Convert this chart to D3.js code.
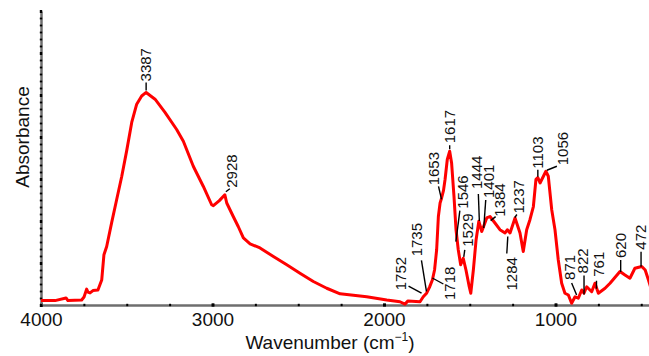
<!DOCTYPE html>
<html>
<head>
<meta charset="utf-8">
<script src="https://cdn.jsdelivr.net/npm/d3@7"></script>
<style>
  body { margin: 0; background: #fff; }
  svg { display: block; font-family: "Liberation Sans", Arial, Helvetica, sans-serif; }
</style>
</head>
<body>
<script>
// FTIR spectrum (cm-1 / absorbance in arbitrary units)
var wavenumber = [4000, 3918, 3854, 3843, 3763, 3749, 3734, 3726, 3714, 3697, 3668, 3646, 3633, 3617, 3588, 3559, 3529, 3500, 3471, 3442, 3413, 3387,
    3335, 3277, 3209, 3170, 3112, 3054, 3005, 2995, 2960, 2928, 2917, 2879, 2850, 2820, 2781, 2723, 2645, 2567, 2490, 2412, 2334, 2256, 2101,
    1984, 1907, 1878, 1860, 1790, 1771, 1752, 1735, 1718, 1705, 1693, 1683, 1673, 1664, 1653, 1644, 1631, 1617, 1606, 1592, 1580, 1567, 1553,
    1538, 1522, 1503, 1494, 1479, 1463, 1447, 1430, 1401, 1382, 1353, 1324, 1294, 1281, 1265, 1236, 1207, 1188, 1168, 1149, 1129, 1114, 1103,
    1090, 1056, 1042, 1022, 1003, 984, 964, 945, 925, 906, 886, 867, 847, 834, 818, 789, 770, 750, 711, 682, 624, 595, 566, 537, 497, 477, 458, 437, 400];
var absorbance = [0.015, 0.015, 0.024, 0.015, 0.017, 0.027, 0.054, 0.044, 0.041, 0.049, 0.051, 0.085, 0.171, 0.199, 0.280, 0.358, 0.438, 0.526, 0.621, 0.683, 0.711, 0.723,
    0.700, 0.655, 0.597, 0.557, 0.472, 0.404, 0.341, 0.338, 0.355, 0.375, 0.347, 0.301, 0.267, 0.228, 0.208, 0.194, 0.165, 0.137, 0.108, 0.080, 0.057, 0.038, 0.028,
    0.017, 0.011, 0.003, 0.014, 0.011, 0.028, 0.040, 0.060, 0.085, 0.120, 0.188, 0.301, 0.347, 0.364, 0.390, 0.427, 0.495, 0.523, 0.484, 0.370, 0.256, 0.188, 0.137,
    0.159, 0.119, 0.062, 0.040, 0.119, 0.222, 0.285, 0.250, 0.296, 0.301, 0.279, 0.256, 0.245, 0.256, 0.245, 0.296, 0.245, 0.182, 0.256, 0.290, 0.335, 0.427, 0.433,
    0.415, 0.455, 0.438, 0.324, 0.256, 0.154, 0.074, 0.040, 0.034, 0.006, 0.028, 0.023, 0.051, 0.040, 0.062, 0.045, 0.074, 0.040, 0.057, 0.074, 0.114, 0.102, 0.091, 0.125, 0.131, 0.119, 0.085, 0.044, 0.020];

var peakLabels = [3387, 2928, 1752, 1735, 1718, 1653, 1617, 1546, 1529, 1444, 1401, 1384, 1284, 1237, 1103, 1056, 871, 822, 761, 620, 472];
var xTickLabels = [4000, 3000, 2000, 1000];

// leader start (sx,sy), leader end (ex,ey), text foot (tx,ty) -- pixel offsets from the curve point
var labelLayout = {
    3387: [0, -2, 0, -10, 0, -11],
    2928: [1, -3, 5, -6, 7, -7],
    1752: [-5, 0, -18, -7, -26, -3],
    1735: [-3, 4, -8, -27, -13, -31],
    1718: [0, -2, 11, 4, 17, 20],
    1653: [-2, 9, -5, -4, -10, -5],
    1617: [0, -2, 0, -6, 0, -8],
    1546: [-6, -20, -2, -51, 1, -53],
    1529: [-1, -8, 0, -15, 3, -18],
    1444: [0, -2, -1, -29, -3, -34],
    1401: [-3, 10, -1, -18, 2, -20],
    1384: [1, 4, 6, 0, 10, 0],
    1284: [1, 6, 0, 23, 5, 60],
    1237: [0, -1, 2, -4, 4, -5],
    1103: [0, -1, 0, -8, 0, -9],
    1056: [1, -1, 11, -5, 17, -6],
    871: [-1, -3, -6, -15, -8, -18],
    822: [-2, 6, -2, -13, -3, -15],
    761: [0, 1, 0, -7, 2, -11],
    620: [0, 0, 0, -12, 0, -14],
    472: [-5, -6, -5, -21, -5, -23]
};

var width = 649, height = 356;
var margin = { left: 41, top: 11, bottom: 51 };

var svg = d3.select("body").append("svg").attr("width", width).attr("height", height);

var x = d3.scaleLinear().domain([4000, 400]).range([margin.left, 658.4]);
var y = d3.scaleLinear().domain([0, 1]).range([height - margin.bottom, margin.top]);

var data = wavenumber.map(function (w, i) { return [w, absorbance[i]]; });

function valueAt(w) {
    for (var i = 0; i < wavenumber.length - 1; i++) {
        if (w <= wavenumber[i] && w >= wavenumber[i + 1]) {
            var t = (wavenumber[i] - w) / (wavenumber[i] - wavenumber[i + 1]);
            return absorbance[i] + t * (absorbance[i + 1] - absorbance[i]);
        }
    }
    return 0;
}

// ---------- axes ----------
var y0 = y(0);
var xMinor = svg.append("g").attr("class", "x axis minor")
    .attr("transform", "translate(0," + y0 + ")")
    .call(d3.axisBottom(x).tickValues(d3.range(4000, 399, -250)).tickSize(0).tickFormat(""));
xMinor.select(".domain").attr("stroke", "#6e6e6e").attr("stroke-width", 2.5);
xMinor.selectAll(".tick line").attr("y1", -1.2).attr("y2", 1.2).attr("stroke", "#000").attr("stroke-width", 2);

var xMajor = svg.append("g").attr("class", "x axis")
    .attr("transform", "translate(0," + y0 + ")")
    .call(d3.axisBottom(x).tickValues(xTickLabels).tickSize(0).tickPadding(8).tickFormat(d3.format("d")));
xMajor.select(".domain").remove();
xMajor.selectAll(".tick line").attr("y1", -1.6).attr("y2", 1.6).attr("stroke", "#000").attr("stroke-width", 3);
xMajor.selectAll("text").attr("font-size", 19).attr("fill", "#111").attr("font-family", "Liberation Sans, Arial, sans-serif");

var yAxis = svg.append("g").attr("class", "y axis")
    .attr("transform", "translate(" + margin.left + ",0)")
    .call(d3.axisLeft(y).tickValues(d3.range(0, 1.0001, 1 / 42)).tickSize(0).tickFormat(""));
yAxis.select(".domain").attr("stroke", "#6e6e6e").attr("stroke-width", 2.5);
yAxis.selectAll(".tick line").attr("x1", -1.2).attr("x2", 1.2).attr("stroke", "#000")
    .attr("stroke-width", function (d, i) { return i % 6 === 0 ? 3 : 1.8; });

// axis titles
svg.append("text")
    .attr("transform", "translate(22," + 137 + ") rotate(-90)")
    .attr("text-anchor", "middle")
    .attr("dy", "0.35em")
    .attr("font-size", 19)
    .attr("fill", "#111")
    .text("Absorbance");

var xt = svg.append("text")
    .attr("x", 330).attr("y", 349)
    .attr("text-anchor", "middle")
    .attr("font-size", 19)
    .attr("fill", "#111");
xt.append("tspan").text("Wavenumber (cm");
xt.append("tspan").attr("dy", -8).attr("font-size", 12).text("\u22121");
xt.append("tspan").attr("dy", 8).text(")");

// ---------- spectrum ----------
var line = d3.line()
    .x(function (d) { return x(d[0]); })
    .y(function (d) { return y(d[1]); });

svg.append("path")
    .datum(data)
    .attr("fill", "none")
    .attr("stroke", "#ff0000")
    .attr("stroke-width", 3)
    .attr("stroke-linejoin", "round")
    .attr("d", line);

// ---------- peak labels ----------
var peaks = svg.append("g").attr("class", "peaks");
peakLabels.forEach(function (w) {
    var px = x(w), py = y(valueAt(w));
    var o = labelLayout[w];
    peaks.append("line")
        .attr("x1", px + o[0]).attr("y1", py + o[1])
        .attr("x2", px + o[2]).attr("y2", py + o[3])
        .attr("stroke", "#000").attr("stroke-width", 1.4);
    peaks.append("text")
        .attr("transform", "translate(" + (px + o[4]) + "," + (py + o[5]) + ") rotate(-90)")
        .attr("text-anchor", "start")
        .attr("dy", "0.35em")
        .attr("font-size", 15)
        .attr("fill", "#111")
        .text(w);
});
</script>
</body>
</html>
